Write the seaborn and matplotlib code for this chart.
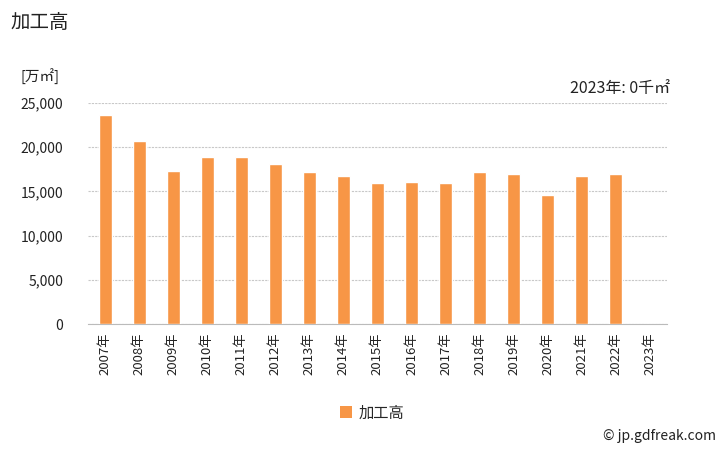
import matplotlib
matplotlib.use("Agg")
import matplotlib.pyplot as plt
import seaborn as sns
import pandas as pd
import numpy as np
from matplotlib.patches import Patch

years = ["2007年", "2008年", "2009年", "2010年", "2011年", "2012年", "2013年", "2014年",
         "2015年", "2016年", "2017年", "2018年", "2019年", "2020年", "2021年", "2022年", "2023年"]
values = [23700, 20700, 17300, 18900, 18900, 18100, 17200, 16700,
          16000, 16100, 16000, 17200, 17000, 14600, 16800, 17000, 0]
yticks = [0, 5000, 10000, 15000, 20000, 25000]
series_name = "加工高"
bar_color = "#F79646"

sns.set_theme(style="white")
plt.rcParams['font.family'] = ['Noto Sans CJK JP', 'DejaVu Sans']

df = pd.DataFrame({"year": years, "value": values})

fig = plt.figure(figsize=(7.28, 4.5), dpi=100)
ax = fig.add_axes([0.121, 0.28, 0.795, 0.491])
sns.barplot(data=df, x="year", y="value", color=bar_color, width=0.38, ax=ax,
            saturation=1, zorder=3)

ax.set_ylim(0, 25000)
ax.set_xlim(-0.5, len(years) - 0.5)
ax.set_yticks(yticks)
ax.set_yticklabels([f"{v:,}" for v in yticks], fontsize=10, color="#222222")
ax.set_xlabel("")
ax.set_ylabel("")
ax.tick_params(axis="x", which="major", length=0, labelrotation=90, labelsize=9.5,
               labelcolor="#222222", pad=6)
ax.set_xticks(np.arange(-0.5, len(years)), minor=True)
ax.tick_params(axis="x", which="minor", length=5, color="#bbbbbb", width=0.8)
ax.tick_params(axis="y", length=0, pad=18)
for lbl in ax.get_yticklabels():
    lbl.set_horizontalalignment("right")

ax.yaxis.grid(True, linestyle=(0, (2, 1)), color="#c8c8c8", linewidth=0.8, zorder=0)
ax.xaxis.grid(False)
for s in ["top", "right", "left"]:
    ax.spines[s].set_visible(False)
ax.spines["bottom"].set_color("#bbbbbb")
ax.spines["bottom"].set_linewidth(0.8)

fig.text(10/728, 1 - 22/450, "加工高", fontsize=14, ha="left", va="center", color="#222222")
fig.text(20/728, 1 - 77/450, "[万㎡]", fontsize=10.5, ha="left", va="center", color="#222222")
fig.text(670/728, 1 - 88/450, "2023年: 0千㎡", fontsize=11.5, ha="right", va="center", color="#222222")
fig.text(716/728, 1 - 436/450, "© jp.gdfreak.com", fontsize=10, ha="right", va="center", color="#222222")

handles = [Patch(facecolor=bar_color, edgecolor="none", label=series_name)]
fig.legend(handles=handles, loc="center", bbox_to_anchor=(372/728, 1 - 413/450),
           frameon=False, fontsize=11, handlelength=0.8, handleheight=0.8,
           handletextpad=0.4)

fig.savefig("out.png", dpi=100, facecolor="white")
